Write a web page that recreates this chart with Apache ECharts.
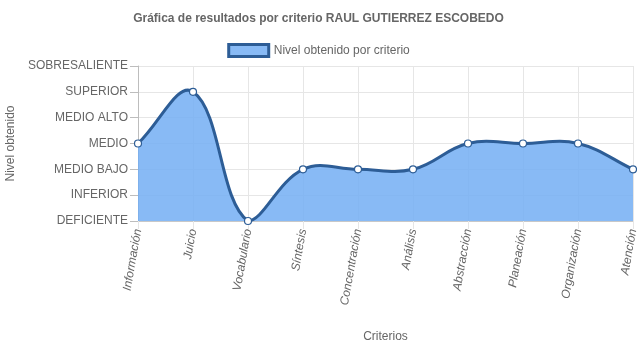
<!DOCTYPE html>
<html><head><meta charset="utf-8">
<script src="https://cdn.jsdelivr.net/npm/echarts@6/dist/echarts.min.js"></script>
<style>html,body{margin:0;padding:0;background:#fff}#c{width:637px;height:348px}</style>
</head><body><div id="c"></div>
<script>
const categories = ['Información','Juicio','Vocabulario','Síntesis','Concentración','Análisis','Abstracción','Planeación','Organización','Atención'];
const values = [3,5,0,2,2,2,3,3,3,2];
const levelLabels = ['DEFICIENTE','INFERIOR','MEDIO BAJO','MEDIO','MEDIO ALTO','SUPERIOR','SOBRESALIENTE'];
const seriesName = 'Nivel obtenido por criterio';
const titleText = 'Gráfica de resultados por criterio RAUL GUTIERREZ ESCOBEDO';

const font = '"Liberation Sans", Arial, sans-serif';
const LINE = '#2d5d96';
const FILL = 'rgba(115,174,243,0.85)';
const TENSION = 0.4;

// Chart.js v2 style spline through points (pixel space), control points capped to the plot area
function renderCurve(params, api) {
  if (params.dataIndex !== 0) return null;
  const cs = params.coordSys;
  const pts = values.map((v, i) => api.coord([i, v]));
  const n = pts.length;
  const cps = pts.map((cur, i) => {
    const prev = i > 0 ? pts[i - 1] : cur;
    const next = i < n - 1 ? pts[i + 1] : cur;
    const d01 = Math.hypot(cur[0] - prev[0], cur[1] - prev[1]);
    const d12 = Math.hypot(next[0] - cur[0], next[1] - cur[1]);
    let s01 = d01 / (d01 + d12), s12 = d12 / (d01 + d12);
    if (isNaN(s01)) s01 = 0; if (isNaN(s12)) s12 = 0;
    const fa = TENSION * s01, fb = TENSION * s12;
    const cap = p => [Math.min(Math.max(p[0], cs.x), cs.x + cs.width), Math.min(Math.max(p[1], cs.y), cs.y + cs.height)];
    return {
      prev: cap([cur[0] - fa * (next[0] - prev[0]), cur[1] - fa * (next[1] - prev[1])]),
      next: cap([cur[0] + fb * (next[0] - prev[0]), cur[1] + fb * (next[1] - prev[1])])
    };
  });
  let d = 'M' + pts[0][0] + ' ' + pts[0][1];
  for (let i = 1; i < n; i++) {
    const a = cps[i - 1].next, b = cps[i].prev;
    d += ' C' + a[0] + ' ' + a[1] + ' ' + b[0] + ' ' + b[1] + ' ' + pts[i][0] + ' ' + pts[i][1];
  }
  const base0 = api.coord([0, 0]), baseN = api.coord([n - 1, 0]);
  const area = d + ' L' + baseN[0] + ' ' + baseN[1] + ' L' + base0[0] + ' ' + base0[1] + ' Z';
  return {
    type: 'group',
    children: [
      { type: 'path', shape: { pathData: area }, style: { fill: FILL, stroke: null } },
      { type: 'path', shape: { pathData: d }, style: { fill: null, stroke: LINE, lineWidth: 3 } }
    ]
  };
}

const chart = echarts.init(document.getElementById('c'), null, {renderer:'canvas'});
chart.setOption({
  animation:false,
  title:{text:titleText,left:'center',top:8,textStyle:{fontFamily:font,fontSize:12,fontWeight:'bold',color:'#666'}},
  legend:{data:[{name:seriesName,icon:'rect'}],top:38,left:'center',itemWidth:40,itemHeight:12,itemGap:6,
    textStyle:{fontFamily:font,fontSize:12,color:'#666'},
    itemStyle:{color:'#88baf5',borderColor:LINE,borderWidth:3}},
  grid:{left:138,right:4,top:66,bottom:127,containLabel:false,outerBoundsMode:'none'},
  xAxis:{type:'category',data:categories,boundaryGap:false,
    name:'Criterios',nameLocation:'middle',nameGap:110,nameTextStyle:{fontFamily:font,fontSize:12,color:'#666'},
    axisLine:{show:true,lineStyle:{color:'#c8c8c8'}},
    axisTick:{show:true,alignWithLabel:true,length:8,lineStyle:{color:'#e6e6e6'}},
    axisLabel:{rotate:80,fontFamily:font,fontSize:12,fontStyle:'italic',color:'#666',margin:8,interval:0},
    splitLine:{show:true,lineStyle:{color:'#e6e6e6'}}},
  yAxis:{type:'value',min:0,max:6,interval:1,
    name:'Nivel obtenido',nameLocation:'middle',nameGap:116,nameRotate:90,nameTextStyle:{fontFamily:font,fontSize:12,color:'#666'},
    axisLine:{show:true,lineStyle:{color:'#bdbdbd'}},
    axisTick:{show:true,length:8,lineStyle:{color:'#bdbdbd'}},
    axisLabel:{fontFamily:font,fontSize:12,color:'#666',margin:10,formatter:v=>levelLabels[v]||''},
    splitLine:{show:true,lineStyle:{color:'#e6e6e6'}}},
  series:[
    {name:'curve',type:'custom',data:values,renderItem:renderCurve,clip:false,silent:true,z:1},
    {name:seriesName,type:'line',data:values,z:2,
      symbol:'circle',symbolSize:7,showAllSymbol:true,
      lineStyle:{width:0,opacity:0},
      itemStyle:{color:'#fff',borderColor:LINE,borderWidth:1.2}}
  ]
});
</script></body></html>
